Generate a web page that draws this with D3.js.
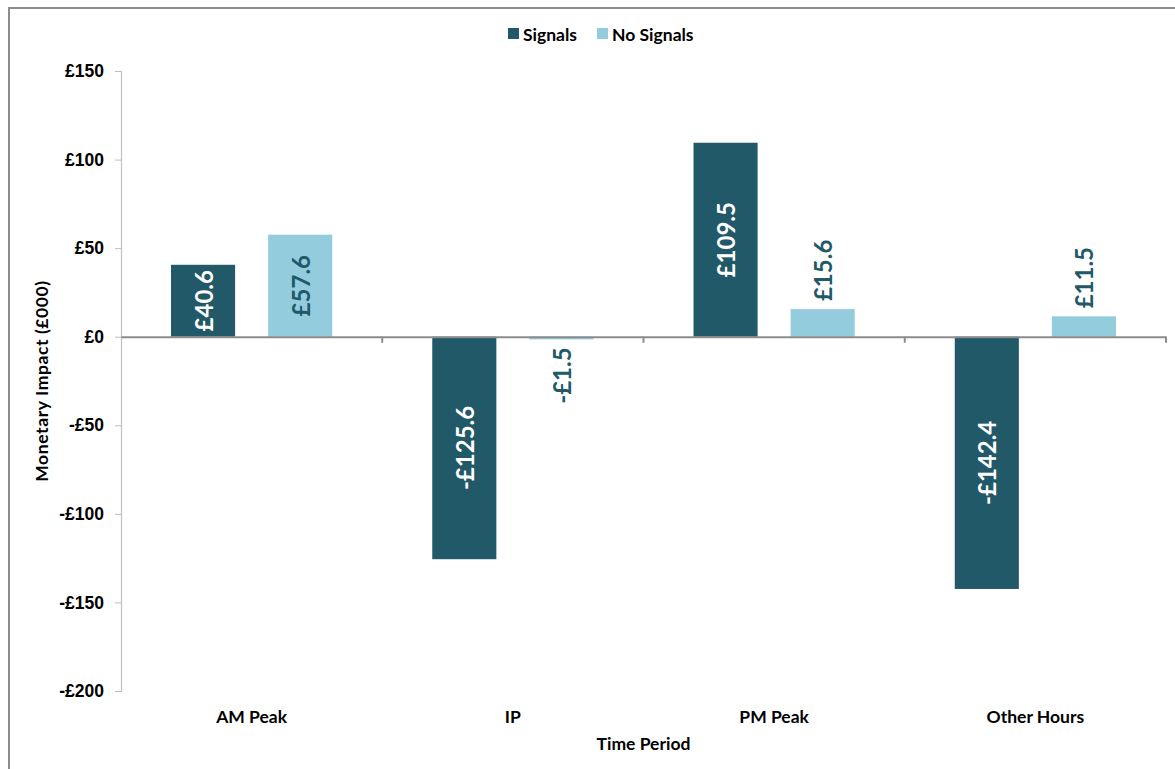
<!DOCTYPE html>
<html>
<head>
<meta charset="utf-8">
<script src="https://cdn.jsdelivr.net/npm/d3@7/dist/d3.min.js"></script>
<style>
  html, body { margin: 0; padding: 0; background: #fff; }
  svg { display: block; font-family: Lato, "Open Sans", sans-serif; }
</style>
</head>
<body>
<svg id="chart" width="1175" height="769"></svg>
<script>
// Monetary impact by time period (£000)
const periods = ["AM Peak", "IP", "PM Peak", "Other Hours"];
const seriesNames = ["Signals", "No Signals"];
const signals = [40.6, -125.6, 109.5, -142.4];
const noSignals = [57.6, -1.5, 15.6, 11.5];
const yTicks = [150, 100, 50, 0, -50, -100, -150, -200];

const colors = { "Signals": "#215968", "No Signals": "#93CDDD" };
const labelColors = { "Signals": "#ffffff", "No Signals": "#215968" };

const svg = d3.select("#chart");
const W = 1175, H = 769;
const plot = { left: 121, right: 1166, top: 71, bottom: 691 };

// outer frame
svg.append("path")
  .attr("d", `M9,${H} L9,8 L${W},8`)
  .attr("fill", "none").attr("stroke", "#8c8c8c").attr("stroke-width", 2);

const y = d3.scaleLinear().domain([-200, 150]).range([plot.bottom, plot.top]);
const x0 = d3.scaleBand().domain(periods).range([plot.left, plot.right]).paddingInner(0).paddingOuter(0);
const x1 = d3.scaleBand().domain(seriesNames).range([0, x0.bandwidth()]).paddingInner(0.34).paddingOuter(0.515);

const rows = periods.map((p, i) => ({ period: p, values: [
  { series: "Signals", value: signals[i] },
  { series: "No Signals", value: noSignals[i] }
]}));

// y axis
const yAxis = d3.axisLeft(y).tickValues(yTicks).tickSize(6).tickPadding(11)
  .tickFormat(d => (d < 0 ? "-£" : "£") + Math.abs(d));
const gy = svg.append("g").attr("transform", `translate(${plot.left},0)`).call(yAxis);
gy.select(".domain").attr("stroke", "#bfbfbf").attr("stroke-width", 1.2);
gy.selectAll(".tick line").attr("stroke", "#bfbfbf");
gy.selectAll(".tick text").attr("fill", "#000").attr("font-size", 17.5).attr("font-weight", "bold");

// bars
const groups = svg.append("g").selectAll("g").data(rows).join("g")
  .attr("transform", d => `translate(${x0(d.period)},0)`);

groups.selectAll("rect").data(d => d.values).join("rect")
  .attr("x", d => x1(d.series))
  .attr("width", x1.bandwidth())
  .attr("y", d => y(Math.max(0, d.value)))
  .attr("height", d => Math.abs(y(d.value) - y(0)))
  .attr("fill", d => colors[d.series]);

// x axis at zero
const xAxis = d3.axisBottom(x0).tickSize(0).tickFormat("");
const gx = svg.append("g").attr("transform", `translate(0,${y(0)})`).call(xAxis);
gx.select(".domain").attr("stroke", "#8c8c8c").attr("stroke-width", 2);
// category dividers
svg.append("g").selectAll("line")
  .data(periods.slice(1).map(p => x0(p)).concat([plot.right]))
  .join("line")
  .attr("x1", d => d).attr("x2", d => d)
  .attr("y1", y(0)).attr("y2", y(0) + 6)
  .attr("stroke", "#8c8c8c").attr("stroke-width", 2);

// category labels
svg.append("g").selectAll("text").data(periods).join("text")
  .attr("x", d => x0(d) + x0.bandwidth() / 2)
  .attr("y", 723)
  .attr("text-anchor", "middle")
  .attr("font-size", 17.5).attr("font-weight", "bold").attr("fill", "#000")
  .text(d => d);

// data labels, rotated; small bars get their label just outside the end
const fmt = v => (v < 0 ? "-£" : "£") + Math.abs(v).toFixed(1);
groups.selectAll("text.val").data(d => d.values).join("text")
  .attr("class", "val")
  .each(function(d) {
    const cx = x1(d.series) + x1.bandwidth() / 2;
    const h = Math.abs(y(d.value) - y(0));
    const inside = h > 70;
    let cy, anchor;
    if (inside) { cy = (y(d.value) + y(0)) / 2; anchor = "middle"; }
    else if (d.value >= 0) { cy = y(d.value) - 8; anchor = "start"; }
    else { cy = y(d.value) + 8; anchor = "end"; }
    d3.select(this)
      .attr("transform", `translate(${cx},${cy}) rotate(-90)`)
      .attr("text-anchor", anchor)
      .attr("dominant-baseline", "central")
      .attr("fill", inside ? labelColors[d.series] : "#215968");
  })
  .attr("font-size", 24).attr("font-weight", "bold")
  .text(d => fmt(d.value));

// axis titles
svg.append("text")
  .attr("transform", `translate(48,${(plot.top + plot.bottom) / 2}) rotate(-90)`)
  .attr("text-anchor", "middle")
  .attr("font-size", 17.5).attr("font-weight", "bold").attr("fill", "#000")
  .attr("letter-spacing", 0.6)
  .text("Monetary Impact (£000)");
svg.append("text")
  .attr("x", (plot.left + plot.right) / 2).attr("y", 750)
  .attr("text-anchor", "middle")
  .attr("font-size", 17.5).attr("font-weight", "bold").attr("fill", "#000")
  .text("Time Period");

// legend
const legend = svg.append("g").attr("transform", "translate(508,28)");
const lItems = legend.selectAll("g").data(seriesNames).join("g")
  .attr("transform", (d, i) => `translate(${i * 89},0)`);
lItems.append("rect").attr("width", 11).attr("height", 11).attr("fill", d => colors[d]);
lItems.append("text").attr("x", 15).attr("y", 6)
  .attr("dominant-baseline", "central")
  .attr("font-size", 17.5).attr("font-weight", "bold").attr("fill", "#000")
  .text(d => d);
</script>
</body>
</html>
